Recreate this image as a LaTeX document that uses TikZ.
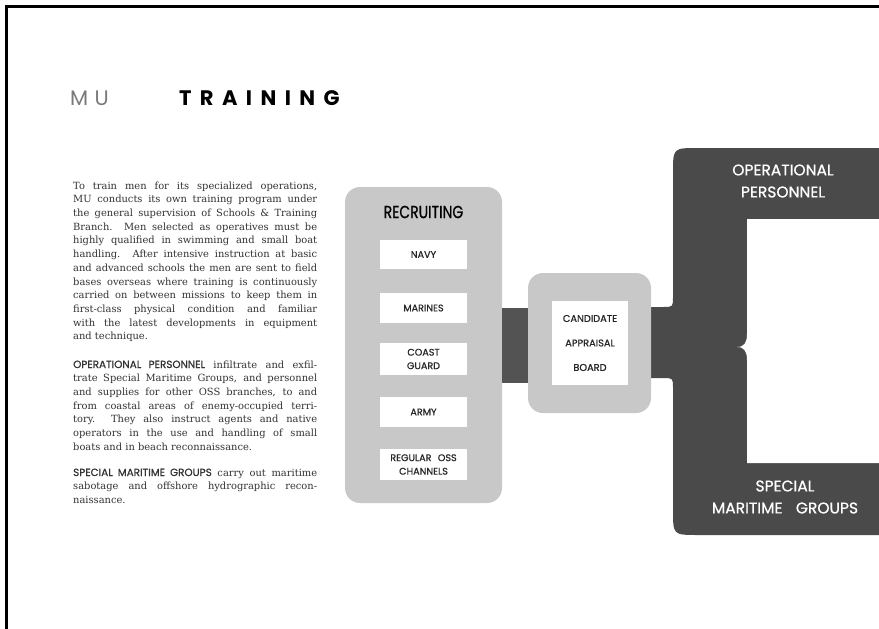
\documentclass[tikz,border=0pt]{standalone}
\usepackage{fontspec}
\usepackage{graphicx}
\setmainfont{DejaVu Serif}
\newfontfamily\labfont{Poppins}
\newfontfamily\labmed[FakeBold=0.7]{Poppins}
\definecolor{paneg}{HTML}{C8C8C8}
\definecolor{darkg}{HTML}{4A4A4A}
\definecolor{inkg}{HTML}{333333}
\definecolor{titleg}{HTML}{7A7A7A}
\tikzset{
  bodyline/.style={anchor=base west, inner sep=0pt, font=\fontsize{9.9}{13}\selectfont, text=inkg},
  subbox/.style={fill=white, draw=none, minimum width=87pt, align=center, inner sep=0pt,
    font=\labmed\fontsize{9.6}{13.5}\selectfont, text=black!85},
  panel/.style={fill=paneg, draw=none, rounded corners=15pt, inner sep=0pt},
  darklab/.style={text=white, align=center, inner sep=0pt, font=\labmed\fontsize{15.5}{22}\selectfont}
}
\newcommand\caprun[1]{{\labmed\fontsize{10.4}{11}\selectfont #1}}
\begin{document}
\begin{tikzpicture}[x=1pt,y=-1pt]
\useasboundingbox (0,0) rectangle (879,629);
\fill[white] (0,0) rectangle (879,629);
% page frame
\draw[line width=3pt] (6.5,629) -- (6.5,6.5) -- (879,6.5);

% title
\node[anchor=base west, inner sep=0pt, text=titleg, font=\labfont\fontsize{21}{24}\selectfont\addfontfeatures{LetterSpace=30}] (tmu) at (70,105) {MU};
\node[anchor=base west, inner sep=0pt, text=black, font=\labfont\bfseries\fontsize{21}{24}\selectfont\addfontfeatures{LetterSpace=40}] (ttr) at (179,105) {TRAINING};

% body text paragraph 1
\foreach \t [count=\i] in {
  {To train men for its specialized operations,},
  {MU conducts its own training program under},
  {the general supervision of Schools \& Training},
  {Branch.\ \ Men selected as operatives must be},
  {highly qualified in swimming and small boat},
  {handling. After intensive instruction at basic},
  {and advanced schools the men are sent to field},
  {bases overseas where training is continuously},
  {carried on between missions to keep them in},
  {first-class physical condition and familiar},
  {with the latest developments in equipment}}
  \node[bodyline] (pa\i) at (73,{189+13.72*(\i-1)}) {\makebox[244pt][s]{\t}};
\node[bodyline] (pa12) at (73,{189+13.72*11}) {and technique.};

% paragraph 2
\node[bodyline] (pb1) at (73,368) {\makebox[244pt][s]{\caprun{OPERATIONAL PERSONNEL} infiltrate and exfil-}};
\foreach \t [count=\i from 2] in {
  {trate Special Maritime Groups, and personnel},
  {and supplies for other OSS branches, to and},
  {from coastal areas of enemy-occupied terri-},
  {tory.\ \ They also instruct agents and native},
  {operators in the use and handling of small}}
  \node[bodyline] (pb\i) at (73,{368+13.67*(\i-1)}) {\makebox[244pt][s]{\t}};
\node[bodyline] (pb7) at (73,{368+13.67*6}) {boats and in beach reconnaissance.};

% paragraph 3
\node[bodyline] (pc1) at (73,476) {\makebox[244pt][s]{\caprun{SPECIAL MARITIME GROUPS} carry out maritime}};
\node[bodyline] (pc2) at (73,489.7) {\makebox[244pt][s]{sabotage and offshore hydrographic recon-}};
\node[bodyline] (pc3) at (73,503.4) {naissance.};

% dark operational shape
\fill[darkg] (879,148) -- (698,148) .. controls (673,148) .. (673,173)
  -- (673,297) .. controls (673,307) .. (663,307) -- (640,307) -- (640,378)
  -- (663,378) .. controls (673,378) .. (673,388) -- (673,510)
  .. controls (673,535) .. (698,535) -- (879,535) -- cycle;
\fill[white] (879,219) -- (747,219) -- (747,334)
  .. controls (747,343) and (744,347) .. (737,347)
  .. controls (744,347) and (747,351) .. (747,360)
  -- (747,463) -- (879,463) -- cycle;
\node[darklab] (oper) at (783,181) {OPERATIONAL\\PERSONNEL};
\node[darklab] (smg) at (785,497) {SPECIAL\\MARITIME\hspace{0.6em} GROUPS};

% recruiting panel
\node[panel, minimum width=157pt, minimum height=316pt] (rec) at (423.5,345) {};
\node[inner sep=0pt, font=\labmed\fontsize{17.5}{20}\selectfont] (rect) at (423.5,212)
  {\scalebox{0.8}[1]{RECRUITING}};
\node[subbox, minimum height=29pt] (navy) at (423.5,254.5) {NAVY};
\node[subbox, minimum height=30pt] (mar) at (423.5,308) {MARINES};
\node[subbox, minimum height=32pt] (cg) at (423.5,359) {COAST\\GUARD};
\node[subbox, minimum height=30pt] (army) at (423.5,412) {ARMY};
\node[subbox, minimum height=31pt] (oss) at (423.5,464.5) {REGULAR\hspace{0.4em} OSS\\CHANNELS};

% candidate appraisal board
\node[panel, minimum width=123pt, minimum height=140pt] (cand) at (589.5,343) {};
\node[fill=white, minimum width=76pt, minimum height=84pt, inner sep=0pt, align=center,
  font=\labmed\fontsize{9.8}{24.5}\selectfont, text=black!85] (cab) at (590,343)
  {CANDIDATE\\APPRAISAL\\BOARD};

% connector bar recruiting -> candidate
\fill[darkg!95] ([yshift=-38pt]rec.east) rectangle ([yshift=35pt]cand.west);
\end{tikzpicture}
\end{document}
